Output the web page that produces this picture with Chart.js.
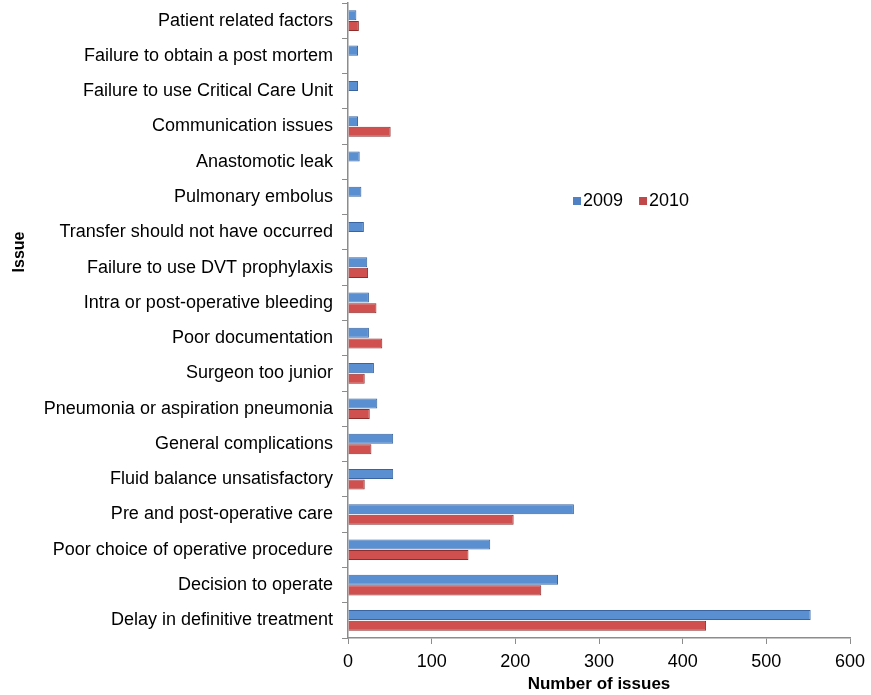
<!DOCTYPE html>
<html>
<head>
<meta charset="utf-8">
<script src="https://cdn.jsdelivr.net/npm/chart.js@4"></script>
<style>
html,body{margin:0;padding:0;background:#fff;}
#wrap{width:871px;height:695px;position:relative;}
</style>
</head>
<body>
<div id="wrap"><canvas id="c" width="871" height="695"></canvas></div>
<script>
const categories = [
  "Patient related factors",
  "Failure to obtain a post mortem",
  "Failure to use Critical Care Unit",
  "Communication issues",
  "Anastomotic leak",
  "Pulmonary embolus",
  "Transfer should not have occurred",
  "Failure to use DVT prophylaxis",
  "Intra or post-operative bleeding",
  "Poor documentation",
  "Surgeon too junior",
  "Pneumonia or aspiration pneumonia",
  "General complications",
  "Fluid balance unsatisfactory",
  "Pre and post-operative care",
  "Poor choice of operative procedure",
  "Decision to operate",
  "Delay in definitive treatment"
];
const values2009 = [10, 12, 12, 12, 14, 16, 19, 23, 25, 25, 31, 35, 54, 54, 270, 170, 251, 553];
const values2010 = [13, null, null, 51, null, null, null, 24, 34, 41, 20, 26, 28, 20, 198, 144, 231, 428];
const xTicks = [0, 100, 200, 300, 400, 500, 600];
const seriesNames = ["2009", "2010"];
const yTitle = "Issue";
const xTitle = "Number of issues";

const FONT = '"Liberation Sans", Arial, sans-serif';

function barGradient(ctx, light, mid, dark) {
  const el = ctx.element;
  const chart = ctx.chart;
  if (!el || el.y === undefined || isNaN(el.y) || !el.height) return mid;
  const h = el.height;
  const g = chart.ctx.createLinearGradient(0, el.y - h / 2, 0, el.y + h / 2);
  g.addColorStop(0, light);
  g.addColorStop(0.35, mid);
  g.addColorStop(1, dark);
  return g;
}

const extrasPlugin = {
  id: 'extras',
  afterDraw(chart) {
    const c = chart.ctx;
    c.save();
    // legend inside plot
    c.font = '18px ' + FONT;
    c.textBaseline = 'middle';
    const y = 201;
    let x = 573;
    const cols = ['#4f81c4', '#c0474a'];
    chart.data.datasets.forEach((ds, i) => {
      c.fillStyle = cols[i];
      c.fillRect(x, y - 4, 8, 8);
      c.fillStyle = '#000';
      c.textAlign = 'left';
      c.fillText(ds.label, x + 10, y);
      x += 10 + c.measureText(ds.label).width + 16;
    });
    // y-axis title
    c.translate(20, 252);
    c.rotate(-Math.PI / 2);
    c.font = 'bold 16px ' + FONT;
    c.textAlign = 'center';
    c.textBaseline = 'middle';
    c.fillStyle = '#000';
    c.fillText(yTitle, 0, 0);
    c.restore();
  }
};

new Chart(document.getElementById('c'), {
  type: 'bar',
  data: {
    labels: categories,
    datasets: [
      {
        label: seriesNames[0],
        data: values2009,
        backgroundColor: (ctx) => barGradient(ctx, '#8fb5e6', '#5a8fd2', '#3c6db0'),
        borderColor: '#3a64a0',
        borderWidth: 1,
        categoryPercentage: 0.6,
        barPercentage: 0.95
      },
      {
        label: seriesNames[1],
        data: values2010,
        backgroundColor: (ctx) => barGradient(ctx, '#ec8a8a', '#d05050', '#a83535'),
        borderColor: '#8f2d2d',
        borderWidth: 1,
        categoryPercentage: 0.6,
        barPercentage: 0.95
      }
    ]
  },
  options: {
    indexAxis: 'y',
    responsive: false,
    animation: false,
    layout: { padding: { left: 8, right: 21, top: 3, bottom: 0 } },
    plugins: {
      legend: { display: false },
      tooltip: { enabled: false }
    },
    scales: {
      x: {
        min: 0,
        max: 600,
        afterBuildTicks(scale) { scale.ticks = xTicks.map(v => ({ value: v })); },
        afterFit(scale) { scale.height = 57; scale.paddingLeft = 0; scale.paddingRight = 0; },
        grid: { drawOnChartArea: false, drawTicks: true, tickLength: 6, color: '#8c8c8c' },
        border: { color: '#8c8c8c', width: 1.5 },
        ticks: { color: '#000', font: { family: FONT, size: 18 }, padding: 7, maxRotation: 0 },
        title: { display: true, text: xTitle, color: '#000', font: { family: FONT, size: 17, weight: 'bold' }, padding: { top: 0, bottom: 0 } }
      },
      y: {
        afterFit(scale) { scale.width = 340; scale.paddingTop = 0; scale.paddingBottom = 0; },
        grid: { drawOnChartArea: false, drawTicks: true, tickLength: 6, color: '#8c8c8c', offset: true },
        border: { color: '#8c8c8c', width: 1.5 },
        ticks: { color: '#000', font: { family: FONT, size: 18 }, padding: 9, autoSkip: false },
        title: { display: false }
      }
    }
  },
  plugins: [extrasPlugin]
});
</script>
</body>
</html>
